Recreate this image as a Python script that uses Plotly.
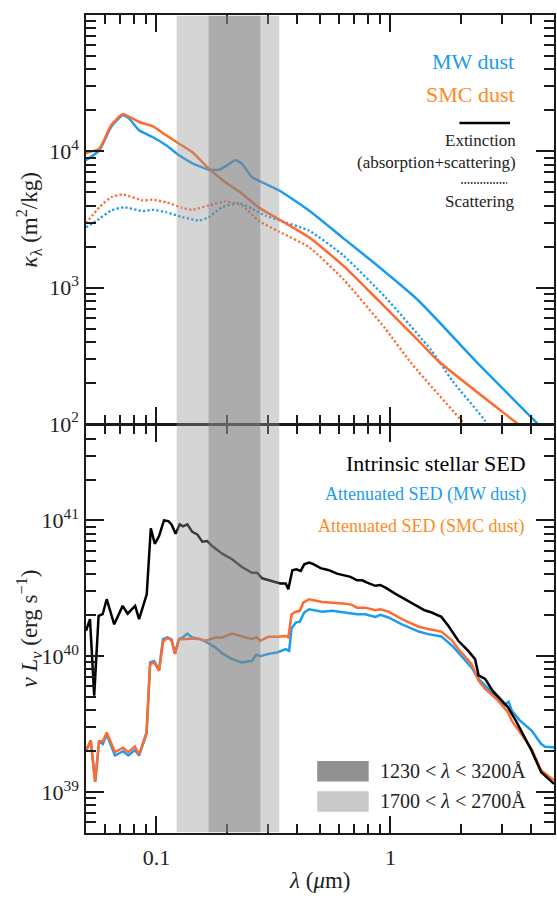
import numpy as np
import plotly.graph_objects as go
from plotly.subplots import make_subplots

# ---------------- data ----------------
# top panel: mass extinction / scattering coefficient (m^2/kg)
lam_mw_ext = [0.05, 0.057, 0.064, 0.0717, 0.0765, 0.0843, 0.0962, 0.11, 0.125, 0.142, 0.1675, 0.185,
              0.2, 0.217, 0.232, 0.256, 0.292, 0.335, 0.449, 0.63, 0.863, 1.32, 2.38, 4.28, 5.0]
kap_mw_ext = [8590, 10160, 15100, 18410, 17380, 14260, 12740, 11070, 9350, 8200, 7330, 7330,
              7890, 8590, 8110, 6470, 5780, 5160, 3680, 2300, 1490, 802, 275, 99.5, 76]

lam_smc_ext = [0.05, 0.057, 0.064, 0.0717, 0.0843, 0.0962, 0.11, 0.125, 0.142, 0.1675, 0.197, 0.232,
               0.275, 0.335, 0.449, 0.63, 0.89, 1.32, 1.6, 3.52, 5.0]
kap_smc_ext = [9730, 10470, 15520, 18710, 16410, 15280, 13120, 11380, 9890, 7460, 5940, 4890,
               3850, 3160, 2340, 1445, 802, 407, 290, 99.5, 61.7]

lam_mw_sca = [0.05, 0.057, 0.064, 0.0728, 0.0872, 0.0962, 0.11, 0.129, 0.152, 0.1675, 0.191, 0.225,
              0.256, 0.292, 0.335, 0.449, 0.63, 0.952, 1.5, 1.84, 2.54, 2.7]
kap_mw_sca = [2770, 3200, 3680, 3890, 3640, 3720, 3580, 3290, 3110, 3290, 3890, 4170,
              3790, 3380, 3110, 2620, 1720, 849, 344, 207, 105, 85]

lam_smc_sca = [0.05, 0.057, 0.064, 0.0717, 0.0872, 0.0962, 0.11, 0.129, 0.142, 0.1675, 0.197, 0.232,
               0.275, 0.335, 0.449, 0.63, 0.95, 1.236, 2.08, 2.2]
kap_smc_sca = [2970, 3890, 4610, 4830, 4370, 4420, 4240, 3850, 3720, 4010, 4290, 4010,
               3080, 2570, 1980, 1150, 501, 275, 99.5, 89]

# bottom panel: nu L_nu (erg/s)
lam_int = [0.05, 0.052, 0.0542, 0.0566, 0.0589, 0.0613, 0.066, 0.0717, 0.0753, 0.0811, 0.0843, 0.0909,
           0.0946, 0.0984, 0.1026, 0.1077, 0.1125, 0.116, 0.1208, 0.1257, 0.13, 0.1355, 0.1423, 0.1494,
           0.157, 0.165, 0.173, 0.191, 0.2105, 0.232, 0.256, 0.269, 0.283, 0.307, 0.338, 0.357, 0.366,
           0.381, 0.396, 0.414, 0.428, 0.449, 0.464, 0.503, 0.546, 0.591, 0.643, 0.675, 0.72, 0.757,
           0.795, 0.862, 0.905, 0.952, 1.047, 1.236, 1.40, 1.50, 1.65, 1.77, 1.95, 2.15, 2.30, 2.38,
           2.54, 2.73, 3.18, 3.45, 4.01, 4.41, 5.0]
L_int = [1.538e40, 1.875e40, 5.13e39, 1.98e40, 2.04e40, 2.63e40, 1.72e40, 2.35e40, 2.06e40, 2.35e40,
         1.875e40, 2.86e40, 8.73e40, 6.73e40, 7.67e40, 1.0e41, 9.89e40, 9.35e40, 7.98e40, 9.35e40,
         9.04e40, 9.35e40, 8.24e40, 7.89e40, 6.97e40, 7.05e40, 6.47e40, 5.69e40, 5.18e40, 4.54e40,
         4.12e40, 4.12e40, 3.75e40, 3.62e40, 3.43e40, 3.43e40, 3.11e40, 4.30e40, 4.37e40, 4.25e40,
         4.75e40, 4.89e40, 4.80e40, 4.45e40, 4.30e40, 4.06e40, 3.90e40, 3.84e40, 3.62e40, 3.62e40,
         3.48e40, 3.30e40, 3.35e40, 3.20e40, 2.89e40, 2.48e40, 2.18e40, 2.10e40, 1.95e40, 1.67e40,
         1.30e40, 1.096e40, 9.53e39, 7.24e39, 6.81e39, 5.58e39, 4.21e39, 3.31e39, 2.02e39, 1.40e39,
         1.15e39]

lam_smc = [0.05, 0.0524, 0.0547, 0.0569, 0.059, 0.0613, 0.0665, 0.072, 0.0757, 0.0809, 0.0843, 0.0907,
           0.094, 0.0977, 0.1026, 0.1067, 0.1114, 0.116, 0.12, 0.1248, 0.13, 0.1355, 0.1423, 0.154,
           0.162, 0.179, 0.191, 0.2105, 0.232, 0.256, 0.267, 0.278, 0.3, 0.33, 0.357, 0.366, 0.378,
           0.394, 0.41, 0.424, 0.449, 0.47, 0.511, 0.564, 0.643, 0.685, 0.72, 0.78, 0.862, 0.905, 0.98,
           1.12, 1.32, 1.45, 1.65, 1.84, 1.95, 2.22, 2.38, 2.54, 2.89, 3.18, 3.3, 4.01, 4.41, 5.0]
L_smc = [2.02e39, 2.40e39, 1.19e39, 2.37e39, 2.37e39, 2.75e39, 1.97e39, 2.12e39, 1.97e39, 2.17e39,
         1.89e39, 2.75e39, 8.77e39, 9.02e39, 7.82e39, 1.285e40, 1.36e40, 1.315e40, 1.04e40, 1.337e40,
         1.337e40, 1.35e40, 1.35e40, 1.337e40, 1.30e40, 1.374e40, 1.374e40, 1.47e40, 1.41e40, 1.337e40,
         1.38e40, 1.30e40, 1.39e40, 1.39e40, 1.41e40, 1.374e40, 2.04e40, 2.13e40, 2.16e40, 2.48e40,
         2.63e40, 2.59e40, 2.51e40, 2.48e40, 2.44e40, 2.39e40, 2.28e40, 2.28e40, 2.18e40, 2.22e40,
         2.13e40, 1.875e40, 1.65e40, 1.585e40, 1.52e40, 1.30e40, 1.13e40, 8.77e39, 6.61e39, 5.74e39,
         4.71e39, 3.86e39, 3.36e39, 2.08e39, 1.44e39, 1.22e39]

lam_mw = [0.05, 0.0524, 0.0547, 0.0569, 0.059, 0.0613, 0.0665, 0.072, 0.0757, 0.0809, 0.0843, 0.0907,
          0.094, 0.0977, 0.1026, 0.1067, 0.1114, 0.116, 0.12, 0.1248, 0.13, 0.1355, 0.1423, 0.154,
          0.162, 0.179, 0.191, 0.2105, 0.232, 0.256, 0.267, 0.278, 0.3, 0.33, 0.357, 0.369, 0.378,
          0.394, 0.41, 0.428, 0.449, 0.47, 0.511, 0.564, 0.643, 0.72, 0.78, 0.862, 0.905, 0.98,
          1.12, 1.32, 1.45, 1.65, 1.84, 1.95, 2.22, 2.38, 2.71, 3.07, 3.2, 3.3, 3.56, 4.01, 4.41,
          4.58, 5.0]
L_mw = [2.02e39, 2.40e39, 1.19e39, 2.37e39, 2.26e39, 2.65e39, 1.86e39, 2.00e39, 1.86e39, 2.04e39,
        1.86e39, 2.69e39, 9.02e39, 9.23e39, 7.94e39, 1.337e40, 1.38e40, 1.334e40, 1.047e40, 1.337e40,
        1.38e40, 1.47e40, 1.374e40, 1.337e40, 1.28e40, 1.16e40, 1.05e40, 9.53e39, 9.02e39, 9.27e39,
        1.026e40, 1.0e40, 1.04e40, 1.07e40, 1.13e40, 1.096e40, 1.61e40, 1.77e40, 1.80e40, 2.10e40,
        2.22e40, 2.18e40, 2.13e40, 2.16e40, 2.10e40, 2.04e40, 2.04e40, 1.95e40, 2.02e40, 1.93e40,
        1.72e40, 1.52e40, 1.455e40, 1.40e40, 1.19e40, 1.067e40, 8.28e39, 6.81e39, 5.42e39, 4.37e39,
        4.62e39, 3.98e39, 3.39e39, 2.84e39, 2.26e39, 2.16e39, 2.14e39]

# wavelength bands (micron)
band_wide = (0.122, 0.335)
band_narrow = (0.167, 0.278)

# axis ranges / ticks
x_range = (0.05, 5.0)
x_major = [0.1, 1]
x_major_text = ["0.1", "1"]
y1_range = (1e2, 1e5)
y1_major = [1e2, 1e3, 1e4, 1e5]
y1_text = ["10<sup>2</sup>", "10<sup>3</sup>", "10<sup>4</sup>", "10<sup>5</sup>"]
y2_range = (5e38, 5e41)
y2_major = [1e39, 1e40, 1e41]
y2_text = ["10<sup>39</sup>", "10<sup>40</sup>", "10<sup>41</sup>"]

# ---------------- styling ----------------
BLUE = "#1a9cf0"
ORANGE = "#ff6a30"
ORANGE_TXT = "#ff8a1e"
FONT = "Liberation Serif"
AX = "#1a1a1a"
TXT = "#222222"


def minor_vals(lo, hi):
    out = []
    for e in range(int(np.floor(np.log10(lo))) - 1, int(np.ceil(np.log10(hi))) + 1):
        for m in range(2, 10):
            v = m * 10.0 ** e
            if lo * 0.999 <= v <= hi * 1.001:
                out.append(v)
    return out


fig = make_subplots(rows=2, cols=1, shared_xaxes=True, vertical_spacing=0)

dot = "2.2px,2.3px"
sm = 0.5
fig.add_trace(go.Scatter(x=lam_mw_sca, y=kap_mw_sca, mode="lines", line=dict(color=BLUE, width=2.3, dash=dot, shape="spline", smoothing=sm)), 1, 1)
fig.add_trace(go.Scatter(x=lam_smc_sca, y=kap_smc_sca, mode="lines", line=dict(color=ORANGE, width=2.3, dash=dot, shape="spline", smoothing=sm)), 1, 1)
fig.add_trace(go.Scatter(x=lam_mw_ext, y=kap_mw_ext, mode="lines", line=dict(color=BLUE, width=2.5, shape="spline", smoothing=sm)), 1, 1)
fig.add_trace(go.Scatter(x=lam_smc_ext, y=kap_smc_ext, mode="lines", line=dict(color=ORANGE, width=2.5, shape="spline", smoothing=sm)), 1, 1)

fig.add_trace(go.Scatter(x=lam_mw, y=L_mw, mode="lines", line=dict(color=BLUE, width=2.5)), 2, 1)
fig.add_trace(go.Scatter(x=lam_smc, y=L_smc, mode="lines", line=dict(color=ORANGE, width=2.5)), 2, 1)
fig.add_trace(go.Scatter(x=lam_int, y=L_int, mode="lines", line=dict(color="black", width=2.5)), 2, 1)

tickfont = dict(family=FONT, size=22, color=TXT)
common = dict(type="log", showline=True, linecolor=AX, linewidth=1.5, mirror="allticks",
              ticks="inside", tickcolor=AX, tickwidth=1.5, showgrid=False, zeroline=False,
              tickfont=tickfont)

fig.update_xaxes(range=[np.log10(x_range[0]), np.log10(x_range[1])], tickmode="array",
                 tickvals=x_major, ticktext=x_major_text, ticklen=17,
                 minor=dict(tickmode="array", tickvals=minor_vals(*x_range), ticks="inside",
                            ticklen=9, tickcolor=AX, tickwidth=1.5, showgrid=False),
                 **common)
fig.update_xaxes(showticklabels=False, row=1, col=1)
fig.update_xaxes(ticklabelstandoff=4, row=2, col=1)

fig.update_yaxes(range=[np.log10(y1_range[0]), np.log10(y1_range[1])], tickmode="array",
                 tickvals=y1_major, ticktext=y1_text, ticklen=18, ticklabelstandoff=1,
                 minor=dict(tickmode="array", tickvals=minor_vals(*y1_range), ticks="inside",
                            ticklen=10, tickcolor=AX, tickwidth=1.5, showgrid=False),
                 row=1, col=1, **common)
fig.update_yaxes(range=[np.log10(y2_range[0]), np.log10(y2_range[1])], tickmode="array",
                 tickvals=y2_major, ticktext=y2_text, ticklen=18, ticklabelstandoff=1,
                 domain=[0, 0.4982],
                 minor=dict(tickmode="array", tickvals=minor_vals(*y2_range), ticks="inside",
                            ticklen=10, tickcolor=AX, tickwidth=1.5, showgrid=False),
                 row=2, col=1, **common)


def xp(v):
    return (np.log10(v) - np.log10(x_range[0])) / (np.log10(x_range[1]) - np.log10(x_range[0]))


shapes = [
    dict(type="rect", xref="paper", yref="paper", x0=xp(band_wide[0]), x1=xp(band_wide[1]), y0=0.001, y1=0.999,
         fillcolor="rgba(150,150,150,0.40)", line=dict(width=0), layer="above"),
    dict(type="rect", xref="paper", yref="paper", x0=xp(band_narrow[0]), x1=xp(band_narrow[1]), y0=0.001, y1=0.999,
         fillcolor="rgba(125,125,125,0.46)", line=dict(width=0), layer="above"),
    # legend swatches
    dict(type="rect", xref="paper", yref="paper", x0=0.494, x1=0.604, y0=0.063, y1=0.088,
         fillcolor="#919191", line=dict(width=0)),
    dict(type="rect", xref="paper", yref="paper", x0=0.494, x1=0.604, y0=0.026, y1=0.051,
         fillcolor="#c9c9c9", line=dict(width=0)),
    dict(type="line", xref="paper", yref="paper", x0=0.798, x1=0.906, y0=0.868, y1=0.868,
         line=dict(color="black", width=2.5)),
    dict(type="line", xref="paper", yref="paper", x0=0.802, x1=0.900, y0=0.7946, y1=0.7946,
         line=dict(color="black", width=1.6, dash="1.6px,1.6px")),
]


def ann(text, x, y, size, color=TXT, xanchor="right", angle=0):
    return dict(text=text, x=x, y=y, xref="paper", yref="paper", xanchor=xanchor, yanchor="middle",
                showarrow=False, textangle=angle, font=dict(family=FONT, size=size, color=color))


annotations = [
    ann("MW dust", 0.919, 0.943, 22, BLUE),
    ann("SMC dust", 0.921, 0.903, 22, ORANGE_TXT),
    ann("Extinction", 0.923, 0.846, 17),
    ann("(absorption+scattering)", 0.923, 0.8194, 17),
    ann("Scattering", 0.919, 0.7726, 17),
    ann("Intrinsic stellar SED", 0.945, 0.452, 22, "black"),
    ann("Attenuated SED (MW dust)", 0.945, 0.4144, 18, BLUE),
    ann("Attenuated SED (SMC dust)", 0.943, 0.3753, 18, ORANGE_TXT),
    ann("1230 &lt; <i>λ</i> &lt; 3200Å", 0.623, 0.0758, 20, xanchor="left"),
    ann("1700 &lt; <i>λ</i> &lt; 2700Å", 0.623, 0.0391, 20, xanchor="left"),
    ann("<i>λ</i> (<i>μ</i>m)", 0.5, -0.0575, 23, xanchor="center"),
    ann("<i>κ</i><sub>λ</sub> (m<sup>2</sup>/kg)", -0.122, 0.75, 23, xanchor="center", angle=-90),
    ann("<i>ν L</i><sub><i>ν</i></sub> (erg s<sup>−1</sup>)", -0.122, 0.25, 23, xanchor="center", angle=-90),
]

fig.update_layout(width=557, height=898, margin=dict(l=86, r=1, t=15, b=65),
                  paper_bgcolor="white", plot_bgcolor="white", showlegend=False,
                  shapes=shapes, annotations=annotations,
                  font=dict(family=FONT, color=TXT))

fig.write_html("out.html")
